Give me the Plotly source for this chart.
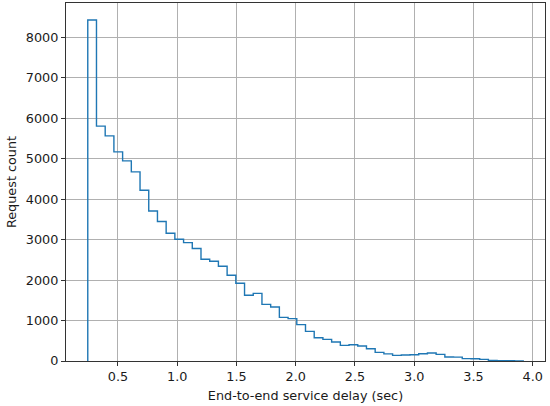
import numpy as np
import plotly.graph_objects as go

# Histogram (50 equal-width bins)
bin_start = 0.245
bin_width = 0.0735
counts = [8430, 5807, 5567, 5171, 4948, 4676, 4223, 3710, 3448, 3158,
          3010, 2928, 2780, 2515, 2465, 2342, 2119, 1921, 1624, 1673,
          1401, 1334, 1079, 1047, 899, 733, 576, 535, 468, 386,
          403, 370, 304, 213, 175, 139, 150, 155, 180, 196,
          165, 100, 95, 58, 55, 40, 15, 8, 5, 3]
x_tick_vals = [0.5, 1.0, 1.5, 2.0, 2.5, 3.0, 3.5, 4.0]
x_tick_text = ["0.5", "1.0", "1.5", "2.0", "2.5", "3.0", "3.5", "4.0"]
y_tick_vals = [0, 1000, 2000, 3000, 4000, 5000, 6000, 7000, 8000]
x_label = "End-to-end service delay (sec)"
y_label = "Request count"

edges = bin_start + bin_width * np.arange(len(counts) + 1)
xs = [edges[0]] + list(edges)
ys = [0] + list(counts) + [0]

span = edges[-1] - edges[0]
x_range = [edges[0] - 0.05 * span, edges[-1] + 0.05 * span]
y_range = [0, max(counts) * 1.05]

fig = go.Figure()
fig.add_trace(go.Scatter(x=xs, y=ys, mode="lines", line_shape="hv",
                         line=dict(color="#1f77b4", width=1.4),
                         hoverinfo="skip", showlegend=False))

font = dict(family="DejaVu Sans", size=12.8, color="#1a1a1a")
axis_common = dict(showline=True, linecolor="#333333", linewidth=1.1, mirror=True,
                   ticks="outside", ticklen=4, tickwidth=1, tickcolor="#333333",
                   showgrid=True, gridcolor="#b0b0b0", gridwidth=1,
                   zeroline=False, tickfont=font, automargin=False)
fig.update_xaxes(range=x_range, tickvals=x_tick_vals, ticktext=x_tick_text,
                 title=dict(text=x_label, font=font, standoff=7), **axis_common)
fig.update_yaxes(range=y_range, tickvals=y_tick_vals,
                 title=dict(text=y_label, font=font, standoff=6), **axis_common)
fig.update_layout(width=550, height=406,
                  margin=dict(l=66, r=5, t=3, b=45),
                  paper_bgcolor="white", plot_bgcolor="white",
                  font=font)
fig.write_html("out.html", config={"displayModeBar": False},
               post_script="document.body.style.margin='0';document.body.style.padding='0';")
